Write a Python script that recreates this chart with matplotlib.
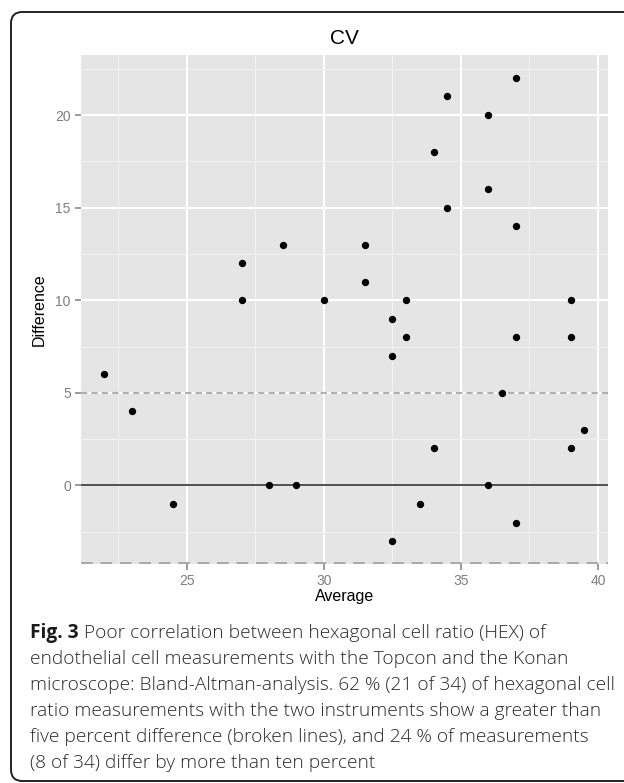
import matplotlib
matplotlib.use("Agg")
import matplotlib.pyplot as plt
from matplotlib.patches import FancyBboxPatch
from matplotlib.ticker import MultipleLocator

# ---- data ----
average = [37, 34.5, 36, 34, 36, 34.5, 37, 28.5, 31.5, 27, 31.5, 27, 30, 33, 39,
           32.5, 33, 37, 39, 32.5, 22, 23, 36.5, 39.5, 34, 39, 28, 29, 36,
           24.5, 33.5, 37, 32.5]
difference = [22, 21, 20, 18, 16, 15, 14, 13, 13, 12, 11, 10, 10, 10, 10,
              9, 8, 8, 8, 7, 6, 4, 5, 3, 2, 2, 0, 0, 0,
              -1, -1, -2, -3]
zero_line = 0
upper_limit = 5
xticks = [25, 30, 35, 40]
yticks = [0, 5, 10, 15, 20]
title = "CV"
xlabel = "Average"
ylabel = "Difference"
caption_bold = "Fig. 3"
caption_lines = [
    " Poor correlation between hexagonal cell ratio (HEX) of",
    "endothelial cell measurements with the Topcon and the Konan",
    "microscope: Bland-Altman-analysis. 62 % (21 of 34) of hexagonal cell",
    "ratio measurements with the two instruments show a greater than",
    "five percent difference (broken lines), and 24 % of measurements",
    "(8 of 34) differ by more than ten percent",
]

W, H = 624, 783
fig = plt.figure(figsize=(W / 100, H / 100), dpi=100)
fig.patch.set_facecolor("white")

# rounded frame (cut off at right edge)
frame = FancyBboxPatch((11 / W, 1 - 781 / H), (660 - 11) / W, (781 - 12) / H,
                       boxstyle="round,pad=0,rounding_size=0.018",
                       transform=fig.transFigure, fill=False,
                       edgecolor="#222222", linewidth=1.4, clip_on=False,
                       mutation_aspect=W / H)
fig.patches.append(frame)

# panel
x0, x1, y0, y1 = 80.5, 608.3, 54.8, 564.2
ax = fig.add_axes([x0 / W, 1 - y1 / H, (x1 - x0) / W, (y1 - y0) / H])
ax.set_facecolor("#e5e5e5")
for s in ax.spines.values():
    s.set_visible(False)

xmin, xmax = min(average), max(average)
ymin, ymax = min(difference), max(difference)
xpad = (xmax - xmin) * 0.05
ypad = (ymax - ymin) * 0.05
ax.set_xlim(xmin - xpad, xmax + xpad)
ax.set_ylim(ymin - ypad, ymax + ypad)

ax.xaxis.set_major_locator(MultipleLocator(5))
ax.xaxis.set_minor_locator(MultipleLocator(2.5))
ax.yaxis.set_major_locator(MultipleLocator(5))
ax.yaxis.set_minor_locator(MultipleLocator(2.5))
ax.set_xticks(xticks)
ax.set_yticks(yticks)
ax.grid(which="minor", color="#f2f2f2", linewidth=0.8)
ax.grid(which="major", color="white", linewidth=1.5)
ax.set_axisbelow(True)
ax.tick_params(which="minor", length=0)
ax.tick_params(which="major", length=4.5, width=1.2, color="#8a8a8a",
               labelcolor="#7f7f7f", labelsize=10, pad=2.5)
for lab in ax.get_xticklabels() + ax.get_yticklabels():
    lab.set_fontfamily("Liberation Sans")

ax.axhline(zero_line, color="#333333", linewidth=1.2, zorder=2)
ax.axhline(upper_limit, color="#b0b0b0", linewidth=1.5, linestyle=(0, (3, 2)), zorder=2)
ax.axhline(ymin - ypad, color="#a8a8a8", linewidth=2.8, linestyle=(0, (3, 2)), zorder=2)

ax.scatter(average, difference, s=28, color="black", zorder=3, linewidths=0)

ax.set_title(title, fontsize=15, family="Liberation Sans", pad=8)
ax.set_xlabel(xlabel, fontsize=11.5, family="Liberation Sans", labelpad=1)
ax.set_ylabel(ylabel, fontsize=11.5, family="Liberation Sans", labelpad=6)

# caption
renderer = fig.canvas.get_renderer()
cap_font = "Open Sans"
probe = fig.text(0, 0, caption_lines[2], fontsize=12, family=cap_font, weight="light")
wpx = probe.get_window_extent(renderer).width
probe.remove()
cap_size = 12 * 585 / wpx
baselines = [638, 664, 690, 716, 742, 768]
xleft = 30
tb = fig.text(xleft / W, 1 - baselines[0] / H, caption_bold, fontsize=cap_size,
              family=cap_font, weight="bold", va="baseline", ha="left", color="#1a1a1a")
bw = tb.get_window_extent(renderer).width
for i, line in enumerate(caption_lines):
    xx = xleft + (bw if i == 0 else 0)
    fig.text(xx / W, 1 - baselines[i] / H, line, fontsize=cap_size,
             family=cap_font, weight="light", va="baseline", ha="left", color="#2a2a2a")

fig.savefig("out.png", dpi=100)
